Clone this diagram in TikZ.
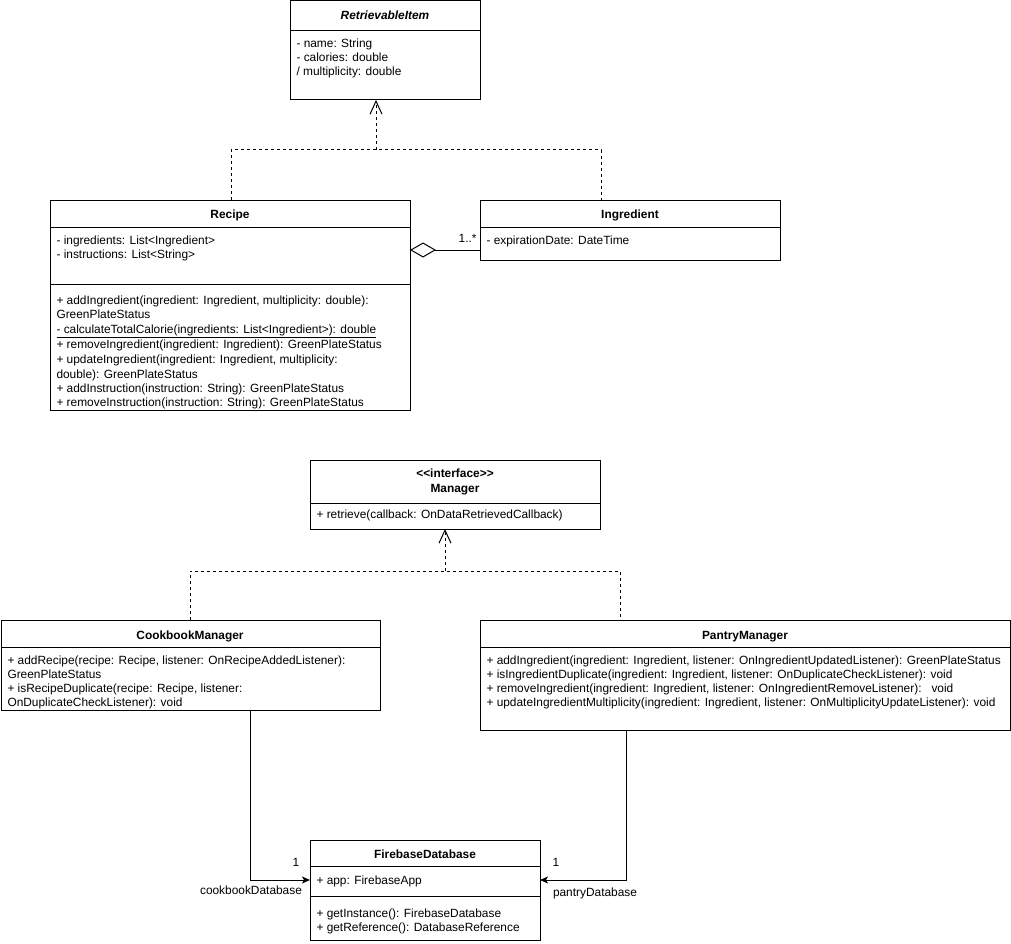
\documentclass[tikz,border=0pt]{standalone}
\usepackage{fontspec}
\setmainfont{Liberation Sans}
\usetikzlibrary{arrows.meta}
\begin{document}
\begin{tikzpicture}[x=1pt,y=-1pt,line width=1pt,
  box/.style={draw, anchor=north west, inner sep=0pt, outer sep=0pt},
  t/.style={anchor=base west, inner sep=0pt, font=\fontsize{11.9}{14}\selectfont},
  ttl/.style={anchor=base, inner sep=0pt, font=\fontsize{11.9}{14}\selectfont\bfseries},
  lbl/.style={anchor=base, inner sep=0pt, font=\fontsize{11.9}{14}\selectfont},
  dep/.style={dash pattern=on 3pt off 3pt},
  openhead/.style={-{Straight Barb[length=13pt,width=12pt,line width=1pt]}},
  assoc/.style={-{Stealth[length=8pt,width=7pt,inset=2pt]}},
  aggr/.style={-{Diamond[open,length=26pt,width=15pt,line width=1pt]}}
]
\useasboundingbox (0,0) rectangle (1011,944);

% ---------- RetrievableItem ----------
\node[box, minimum width=190pt, minimum height=99pt] (ri) at (290,1) {};
\draw ([yshift=-30pt]ri.north west) -- ([yshift=-30pt]ri.north east);
\node[ttl, font=\fontsize{11.9}{14}\selectfont\bfseries\itshape] (riT) at (385,20) {RetrievableItem};
\node[t] (ri1) at (296,48) {- name: String};
\node[t] (ri2) at (296,62) {- calories: double};
\node[t] (ri3) at (296,76) {/ multiplicity: double};

% ---------- Recipe ----------
\node[box, minimum width=360pt, minimum height=210pt] (recipe) at (50,200) {};
\draw ([yshift=-27pt]recipe.north west) -- ([yshift=-27pt]recipe.north east);
\draw ([yshift=-84pt]recipe.north west) -- ([yshift=-84pt]recipe.north east);
\node[ttl] (recT) at (230,218) {Recipe};
\node[t] (rec1) at (56,244) {- ingredients: List<Ingredient>};
\node[t] (rec2) at (56,258) {- instructions: List<String>};
\node[t] (rec3) at (56,304) {+ addIngredient(ingredient: Ingredient, multiplicity: double):};
\node[t] (rec4) at (56,318) {GreenPlateStatus};
\node[t] (rec5) at (56,333) {\underline{- calculateTotalCalorie(ingredients: List<Ingredient>): double}};
\node[t] (rec6) at (56,348) {+ removeIngredient(ingredient: Ingredient): GreenPlateStatus};
\node[t] (rec7) at (56,363) {+ updateIngredient(ingredient: Ingredient, multiplicity:};
\node[t] (rec8) at (56,378) {double): GreenPlateStatus};
\node[t] (rec9) at (56,392) {+ addInstruction(instruction: String): GreenPlateStatus};
\node[t] (rec10) at (56,406) {+ removeInstruction(instruction: String): GreenPlateStatus};

% ---------- Ingredient ----------
\node[box, minimum width=300pt, minimum height=60pt] (ing) at (480,200) {};
\draw ([yshift=-27pt]ing.north west) -- ([yshift=-27pt]ing.north east);
\node[ttl] (ingT) at (630,218) {Ingredient};
\node[t] (ing1) at (486,244) {- expirationDate: DateTime};

% ---------- Manager ----------
\node[box, minimum width=290pt, minimum height=69pt] (man) at (310,460) {};
\draw ([yshift=-43pt]man.north west) -- ([yshift=-43pt]man.north east);
\node[ttl] (manS) at (455,477) {<\kern0pt<interface>\kern0pt>};
\node[ttl] (manT) at (455,492) {Manager};
\node[t] (man1) at (316,518) {+ retrieve(callback: OnDataRetrievedCallback)};

% ---------- CookbookManager ----------
\node[box, minimum width=379pt, minimum height=90pt] (cook) at (1,620) {};
\draw ([yshift=-27pt]cook.north west) -- ([yshift=-27pt]cook.north east);
\node[ttl] (cookT) at (190,639) {CookbookManager};
\node[t] (cook1) at (7,664) {+ addRecipe(recipe: Recipe, listener: OnRecipeAddedListener):};
\node[t] (cook2) at (7,678) {GreenPlateStatus};
\node[t] (cook3) at (7,692.5) {+ isRecipeDuplicate(recipe: Recipe, listener:};
\node[t] (cook4) at (7,706.5) {OnDuplicateCheckListener): void};

% ---------- PantryManager ----------
\node[box, minimum width=530pt, minimum height=110pt] (pan) at (480,620) {};
\draw ([yshift=-27pt]pan.north west) -- ([yshift=-27pt]pan.north east);
\node[ttl] (panT) at (745,639) {PantryManager};
\node[t] (pan1) at (486,664) {+ addIngredient(ingredient: Ingredient, listener: OnIngredientUpdatedListener): GreenPlateStatus};
\node[t] (pan2) at (486,678) {+ isIngredientDuplicate(ingredient: Ingredient, listener: OnDuplicateCheckListener): void};
\node[t] (pan3) at (486,692.5) {+ removeIngredient(ingredient: Ingredient, listener: OnIngredientRemoveListener):\ \ \ void};
\node[t] (pan4) at (486,706.5) {+ updateIngredientMultiplicity(ingredient: Ingredient, listener: OnMultiplicityUpdateListener): void};

% ---------- FirebaseDatabase ----------
\node[box, minimum width=230pt, minimum height=100pt] (fb) at (310,840) {};
\draw ([yshift=-26pt]fb.north west) -- ([yshift=-26pt]fb.north east);
\draw ([yshift=-56pt]fb.north west) -- ([yshift=-56pt]fb.north east);
\node[ttl] (fbT) at (425,858) {FirebaseDatabase};
\node[t] (fb1) at (316,884.5) {+ app: FirebaseApp};
\node[t] (fb2) at (316,917) {+ getInstance(): FirebaseDatabase};
\node[t] (fb3) at (316,931.5) {+ getReference(): DatabaseReference};

% ---------- connectors ----------
\coordinate (g1) at (231,150);
\coordinate (g2) at (601,150);
\coordinate (g3) at (376,150);
\draw[dep] (recipe.north -| g1) -- (g1) -- (g2) -- (ing.north -| g2);
\draw[dep, openhead] (g3) -- (ri.south -| g3);

\coordinate (a1) at (0,250);
\draw[aggr] (ing.west |- a1) -- (recipe.east |- a1);
\node[lbl, anchor=base east] (mult) at (477,242) {1..*};

\coordinate (m1) at (190,571);
\coordinate (m2) at (620,571);
\coordinate (m3) at (445,571);
\draw[dep] (cook.north -| m1) -- (m1) -- (m2) -- (pan.north -| m2);
\draw[dep, openhead] (m3) -- (man.south -| m3);

\coordinate (c1) at (250,880);
\draw[assoc] (cook.south -| c1) -- (c1) -- (fb.west |- c1);
\node[lbl] (c1n) at (296,866) {1};
\node[lbl] (c1r) at (251,894) {cookbookDatabase};

\coordinate (p1) at (626,880);
\draw[assoc] (pan.south -| p1) -- (p1) -- (fb.east |- p1);
\node[lbl] (p1n) at (556,866) {1};
\node[lbl] (p1r) at (595,896) {pantryDatabase};
\end{tikzpicture}
\end{document}
